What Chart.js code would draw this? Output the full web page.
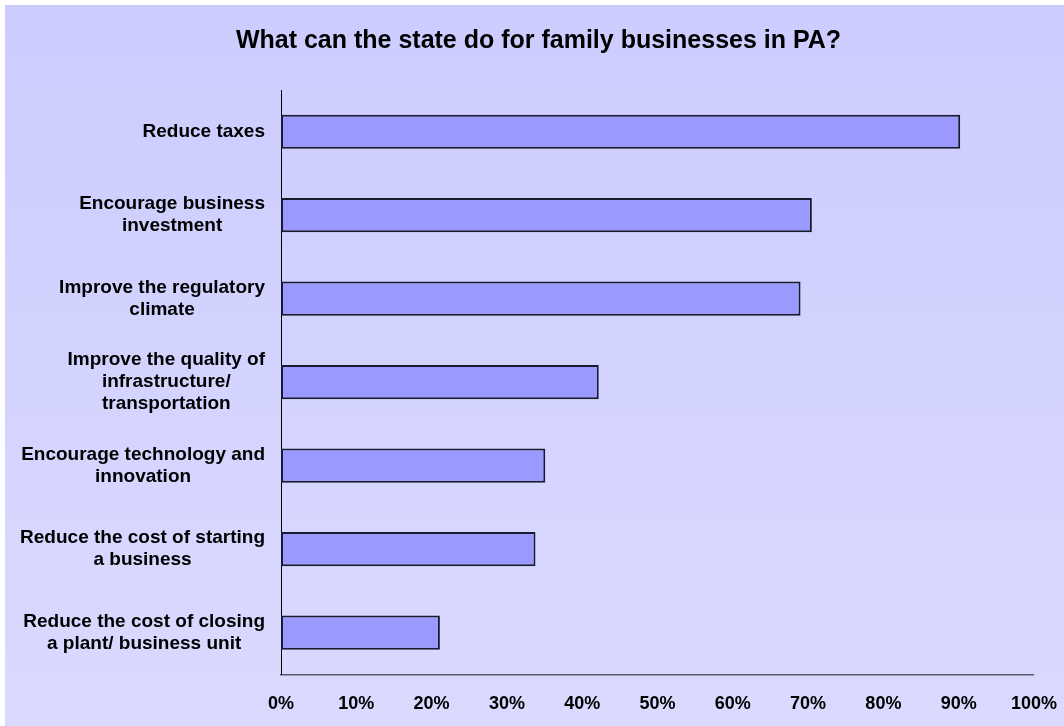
<!DOCTYPE html>
<html>
<head>
<meta charset="utf-8">
<script src="https://cdn.jsdelivr.net/npm/chart.js@4/dist/chart.umd.min.js"></script>
<style>
    html, body { margin: 0; padding: 0; background: #ffffff; }
    #box {
        position: absolute; left: 5px; top: 5px; width: 1059px; height: 721px;
        overflow: hidden;
        background: linear-gradient(to bottom, #ccccff, #dadaff);
    }
    #chart { position: absolute; left: 0; top: 0; }
    #title {
        position: absolute; left: 0; top: 20px; width: 1067px;
        text-align: center; line-height: 30px;
        font: bold 25px 'Liberation Sans', Arial, sans-serif; color: #000;
    }
</style>
</head>
<body>
<div id="box">
    <canvas id="chart" width="1059" height="721"></canvas>
    <div id="title">What can the state do for family businesses in PA?</div>
</div>
<script>
const categories = [
    ["Reduce taxes"],
    ["Encourage business", "investment"],
    ["Improve the regulatory", "climate"],
    ["Improve the quality of", "infrastructure/", "transportation"],
    ["Encourage technology and", "innovation"],
    ["Reduce the cost of starting", "a business"],
    ["Reduce the cost of closing", "a plant/ business unit"]
];
const values = [90.2, 70.5, 69.0, 42.2, 35.1, 33.8, 21.1];
const tickSuffix = "%";

const family = "'Liberation Sans', Arial, sans-serif";
const labelFont = "bold 19px " + family;

// category labels: each block right-aligned to the axis, its lines centred within the block
const blockLabels = {
    id: "blockLabels",
    afterDraw(chart) {
        const scale = chart.scales.y;
        const ctx = chart.ctx;
        ctx.save();
        ctx.font = labelFont;
        ctx.fillStyle = "#000";
        ctx.textAlign = "center";
        ctx.textBaseline = "middle";
        scale.ticks.forEach((t, i) => {
            const lines = categories[i];
            const w = Math.max(...lines.map(l => ctx.measureText(l).width));
            const cx = scale.right - 16 - w / 2;
            const cy = scale.getPixelForTick(i);
            lines.forEach((l, k) => {
                ctx.fillText(l, cx, cy + (k - (lines.length - 1) / 2) * 22);
            });
        });
        ctx.restore();
    }
};

new Chart(document.getElementById("chart"), {
    type: "bar",
    data: {
        labels: categories,
        datasets: [{
            data: values,
            backgroundColor: "#9999ff",
            borderColor: "#1a1a2e",
            borderWidth: 2,
            borderSkipped: false,
            barPercentage: 0.41,
            categoryPercentage: 1
        }]
    },
    options: {
        indexAxis: "y",
        responsive: false,
        animation: false,
        layout: { padding: { left: 0, right: 0, top: 85, bottom: 4 } },
        plugins: {
            legend: { display: false },
            tooltip: { enabled: false },
            title: { display: false }
        },
        scales: {
            x: {
                min: 0,
                max: 100,
                ticks: {
                    stepSize: 10,
                    color: "#000",
                    font: { family: family, weight: "bold", size: 18, lineHeight: 1.2 },
                    padding: 7,
                    maxRotation: 0,
                    callback: v => v + tickSuffix
                },
                // tick marks are hidden; tickLength only spaces the labels
                grid: { display: false, drawTicks: true, tickLength: 12 },
                border: { display: true, color: "#5a5a6a", width: 1.5 }
            },
            y: {
                ticks: { display: false },
                afterFit: s => { s.width = 276; },
                grid: { display: false, drawTicks: false },
                border: { display: true, color: "#000", width: 1 }
            }
        }
    },
    plugins: [blockLabels]
});
</script>
</body>
</html>
